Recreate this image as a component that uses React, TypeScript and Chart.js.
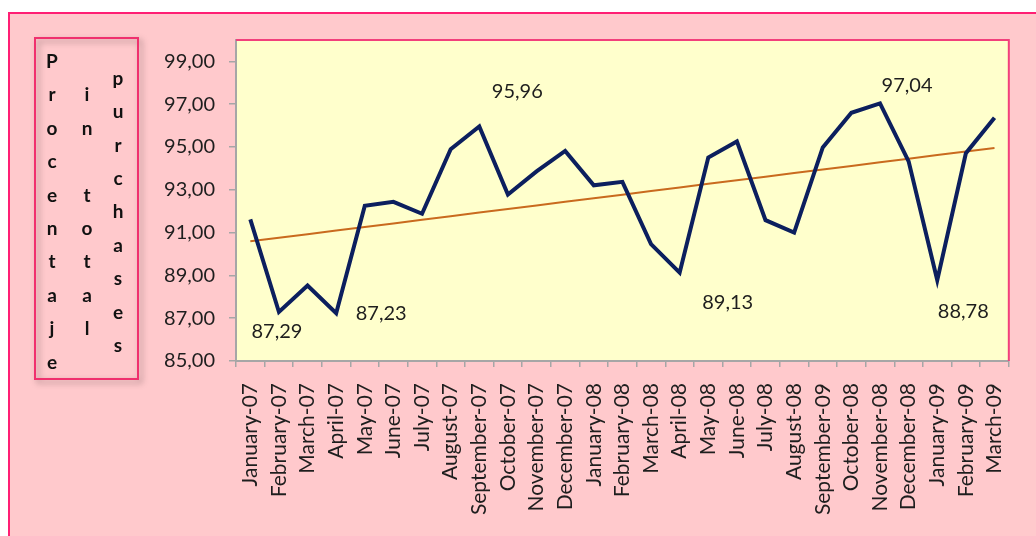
import { useEffect, useRef } from "react";
import { Chart, registerables } from "chart.js";

Chart.register(...registerables);

const months = [
  "January-07", "February-07", "March-07", "April-07", "May-07", "June-07",
  "July-07", "August-07", "September-07", "October-07", "November-07", "December-07",
  "January-08", "February-08", "March-08", "April-08", "May-08", "June-08",
  "July-08", "August-08", "September-09", "October-08", "November-08", "December-08",
  "January-09", "February-09", "March-09",
];

const purchasePct = [
  91.62, 87.29, 88.53, 87.23, 92.25, 92.44,
  91.88, 94.9, 95.96, 92.78, 93.86, 94.82,
  93.21, 93.37, 90.46, 89.13, 94.51, 95.26,
  91.58, 91.0, 94.98, 96.6, 97.04, 94.33,
  88.78, 94.71, 96.37,
];

const yTicks = [85, 87, 89, 91, 93, 95, 97, 99];
const yMin = 85;
const yMax = 100;

const labelledIndex = [1, 3, 8, 15, 22, 24];

const titleColumns = ["Procentaje", "in total", "purchases"];

// styling only: pixel offsets of the value labels from their points
const labelOffsets: Record<number, [number, number]> = {
  1: [-2, 20],
  3: [45, 0],
  8: [38, -35],
  15: [48, 30],
  22: [27, -18],
  24: [26, 31],
};

function linearTrend(values: number[]): number[] {
  const n = values.length;
  let sx = 0, sy = 0, sxx = 0, sxy = 0;
  values.forEach((y, x) => {
    sx += x; sy += y; sxx += x * x; sxy += x * y;
  });
  const slope = (n * sxy - sx * sy) / (n * sxx - sx * sx);
  const icpt = (sy - slope * sx) / n;
  return values.map((_, x) => icpt + slope * x);
}

const fmt = (v: number) => v.toFixed(2).replace(".", ",");

const FONT = "Lato";
const TEXT = "#1e1e1e";

const decorPlugin = {
  id: "decor",
  beforeDraw(chart: any) {
    const { ctx, chartArea: a } = chart;
    ctx.save();
    ctx.fillStyle = "#ffffcc";
    ctx.fillRect(a.left, a.top, a.right - a.left, a.bottom - a.top);
    ctx.restore();
  },
  afterDraw(chart: any) {
    const { ctx, chartArea: a } = chart;
    ctx.save();
    ctx.strokeStyle = "#f2407c";
    ctx.lineWidth = 2;
    ctx.beginPath();
    ctx.moveTo(a.left, a.top);
    ctx.lineTo(a.right, a.top);
    ctx.lineTo(a.right, a.bottom);
    ctx.stroke();

    const meta = chart.getDatasetMeta(0);
    ctx.fillStyle = TEXT;
    ctx.font = `20px ${FONT}`;
    ctx.textAlign = "center";
    ctx.textBaseline = "middle";
    labelledIndex.forEach((i) => {
      const pt = meta.data[i];
      const [dx, dy] = labelOffsets[i] || [0, -20];
      ctx.fillText(fmt(purchasePct[i]), pt.x + dx, pt.y + dy);
    });

    const bx = 25, by = 24, bw = 103, bh = 341;
    ctx.save();
    ctx.shadowColor = "rgba(0,0,0,0.35)";
    ctx.shadowBlur = 6;
    ctx.shadowOffsetX = 3;
    ctx.shadowOffsetY = 3;
    ctx.strokeStyle = "#f0306e";
    ctx.lineWidth = 2;
    ctx.strokeRect(bx, by, bw, bh);
    ctx.restore();

    ctx.fillStyle = "#111111";
    ctx.font = `bold 19px ${FONT}`;
    ctx.textAlign = "center";
    ctx.textBaseline = "alphabetic";
    const colX = [42, 77, 108];
    const pitch = 33.4;
    const firstBase = 54;
    const maxLen = Math.max(...titleColumns.map((c) => c.length));
    titleColumns.forEach((col, ci) => {
      const start = firstBase + ((maxLen - col.length) / 2) * pitch;
      col.split("").forEach((ch, k) => {
        if (ch !== " ") ctx.fillText(ch, colX[ci], start + k * pitch);
      });
    });
    ctx.restore();
  },
};

export default function App() {
  const ref = useRef<HTMLCanvasElement>(null);

  useEffect(() => {
    if (!ref.current) return;
    const chart = new Chart(ref.current, {
      type: "line",
      data: {
        labels: months,
        datasets: [
          {
            label: "Procentaje in total purchases",
            data: purchasePct,
            borderColor: "#0c1f5e",
            borderWidth: 4,
            pointRadius: 0,
            tension: 0,
            fill: false,
            order: 0,
          },
          {
            label: "Linear trend",
            data: linearTrend(purchasePct),
            borderColor: "#c96a1e",
            borderWidth: 2,
            pointRadius: 0,
            tension: 0,
            fill: false,
            order: 1,
          },
        ],
      },
      options: {
        animation: false,
        responsive: false,
        devicePixelRatio: 1,
        layout: { padding: { top: 23, right: 16, left: 0, bottom: 0 } },
        plugins: {
          legend: { display: false },
          tooltip: { enabled: false },
          title: { display: false },
        },
        scales: {
          x: {
            type: "category",
            offset: true,
            grid: {
              offset: true,
              drawOnChartArea: false,
              drawTicks: true,
              tickLength: 6,
              color: "#a6a6a6",
              lineWidth: 1.5,
            },
            border: { display: true, color: "#a6a6a6", width: 2 },
            ticks: {
              autoSkip: false,
              maxRotation: 90,
              minRotation: 90,
              padding: 16,
              color: TEXT,
              font: { family: FONT, size: 21 },
            },
            afterFit: (scale: any) => {
              scale.height = 175;
            },
          },
          y: {
            min: yMin,
            max: yMax,
            grid: {
              drawOnChartArea: false,
              drawTicks: true,
              tickLength: 7,
              color: "#a6a6a6",
              lineWidth: 1.5,
            },
            border: { display: true, color: "#a6a6a6", width: 2 },
            ticks: {
              padding: 14,
              color: TEXT,
              font: { family: FONT, size: 20 },
              callback: (v: any) => fmt(Number(v)),
            },
            afterBuildTicks: (scale: any) => {
              scale.ticks = yTicks.map((v) => ({ value: v }));
            },
            afterFit: (scale: any) => {
              scale.width = 226;
            },
          },
        },
      },
      plugins: [decorPlugin],
    });
    return () => chart.destroy();
  }, []);

  return (
    <div
      style={{
        position: "fixed",
        left: 8,
        top: 12,
        width: 1028,
        height: 524,
        boxSizing: "border-box",
        background: "#ffc9cc",
        borderTop: "2px solid #ff1f74",
        borderLeft: "2px solid #ff1f74",
      }}
    >
      <canvas ref={ref} width={1026} height={522} style={{ display: "block" }} />
    </div>
  );
}
